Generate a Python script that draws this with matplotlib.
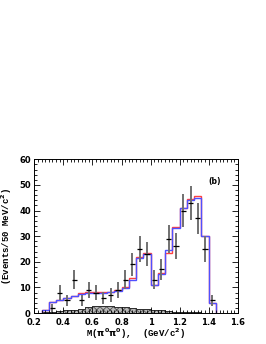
import matplotlib

matplotlib.use("Agg")

import matplotlib.pyplot as plt
import numpy as np
from matplotlib.ticker import MultipleLocator

# bin edges of the 50 MeV histograms
bin_edges = [0.25, 0.30, 0.35, 0.40, 0.45, 0.50, 0.55, 0.60, 0.65, 0.70,
             0.75, 0.80, 0.85, 0.90, 0.95, 1.00, 1.05, 1.10, 1.15, 1.20,
             1.25, 1.30, 1.35, 1.40, 1.45]

fit_red = [1.0, 4.4, 5.2, 6.0, 6.8, 7.7, 8.1, 8.1, 8.1, 8.3, 8.9, 10.2,
           13.7, 21.7, 23.6, 11.1, 15.5, 23.6, 33.5, 41.1, 44.5, 45.7,
           30.2, 3.9]
fit_blue = [1.0, 4.4, 5.2, 6.0, 6.8, 7.6, 8.0, 8.0, 8.0, 8.2, 8.6, 9.6,
            12.9, 21.4, 23.0, 11.0, 15.1, 24.5, 33.3, 41.0, 44.1, 44.9,
            30.2, 3.9]
background = [0.3, 0.5, 0.7, 1.0, 1.3, 1.7, 2.2, 2.6, 2.8, 2.8, 2.5, 2.2,
              1.9, 1.6, 1.5, 1.3, 1.0, 0.8, 0.6, 0.5, 0.4, 0.3, 0.2, 0.1]

data_x = [0.325, 0.375, 0.425, 0.475, 0.525, 0.575, 0.625, 0.675, 0.725,
          0.775, 0.825, 0.875, 0.925, 0.975, 1.025, 1.075, 1.125, 1.175,
          1.225, 1.275, 1.325, 1.375, 1.425]
data_y = [2, 8, 5, 13, 5, 9, 8, 6, 7, 9, 13, 19, 25, 23, 13, 17, 29, 26,
          40, 43, 37, 25, 5]
data_err = [1.4, 2.8, 2.2, 3.6, 2.2, 3.0, 2.8, 2.4, 2.6, 3.0, 3.6, 4.4,
            5.0, 4.8, 3.6, 4.1, 5.4, 5.1, 6.3, 6.6, 6.1, 5.0, 2.2]

plt.rcParams["hatch.linewidth"] = 0.6
plt.rcParams["hatch.color"] = "#505050"

fig = plt.figure(figsize=(2.66, 3.44), dpi=100)
ax = fig.add_axes([0.129, 0.090, 0.765, 0.447])

edges = np.array(bin_edges)

ax.stairs(background, edges, fill=True, facecolor="#b8b8b8",
          edgecolor="#505050", hatch="xxxxx", linewidth=0.6)
ax.stairs(background, edges, color="#303030", linewidth=0.7)

ax.stairs(fit_red, edges, color="#ff4040", linewidth=1.0, baseline=0)
ax.stairs(fit_blue, edges, color="#5050ff", linewidth=1.0, baseline=0)

ax.errorbar(data_x, data_y, yerr=data_err, fmt="none",
            ecolor="#707070", elinewidth=1.4, capsize=0)
ax.errorbar(data_x, data_y, xerr=0.018, fmt="none",
            ecolor="black", elinewidth=0.9, capsize=0)

ax.text(1.44, 51.5, "(b)", fontsize=5.5, fontweight="bold",
        ha="center", va="center")

ax.set_xlim(0.2, 1.6)
ax.set_ylim(0, 60)
ax.xaxis.set_major_locator(MultipleLocator(0.2))
ax.xaxis.set_minor_locator(MultipleLocator(0.025))
ax.yaxis.set_major_locator(MultipleLocator(10))
ax.yaxis.set_minor_locator(MultipleLocator(2))
ax.set_xticks([0.2, 0.4, 0.6, 0.8, 1.0, 1.2, 1.4, 1.6])
ax.set_xticklabels(["0.2", "0.4", "0.6", "0.8", "1", "1.2", "1.4", "1.6"])

ax.tick_params(which="both", direction="in", top=True, right=True,
               labelsize=6, width=0.6)
ax.tick_params(axis="x", pad=3.5)
ax.tick_params(axis="y", pad=2.5)
ax.tick_params(which="major", length=4)
ax.tick_params(which="minor", length=2)
for label in ax.get_xticklabels() + ax.get_yticklabels():
    label.set_fontweight("bold")
for spine in ax.spines.values():
    spine.set_linewidth(0.7)

ax.set_xlabel(r"M($\mathbf{\pi^0\pi^0}$),  (GeV/c$^\mathbf{2}$)",
              family="Liberation Mono", fontweight="bold", fontsize=6.5,
              labelpad=0)
ax.set_ylabel(r"(Events/50 MeV/c$^\mathbf{2}$)",
              family="Liberation Mono", fontweight="bold", fontsize=6.5,
              labelpad=3.5)

fig.savefig("out.png", dpi=100)
